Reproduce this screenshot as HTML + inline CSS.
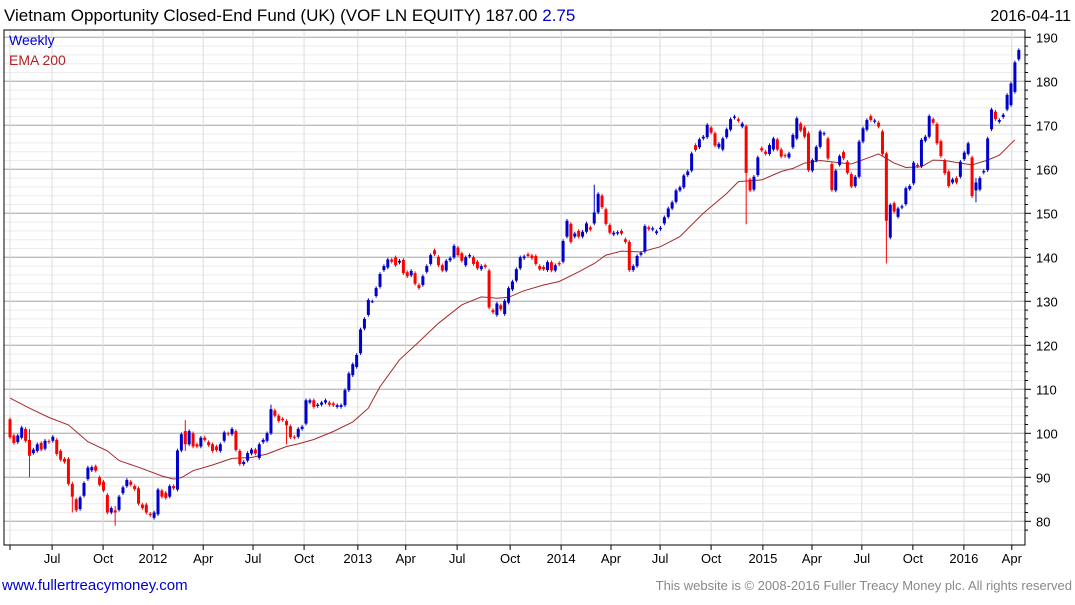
<!DOCTYPE html>
<html><head><meta charset="utf-8">
<style>
body{margin:0;background:#fff;font-family:"Liberation Sans",sans-serif;}
svg text{font-family:"Liberation Sans",sans-serif;}
</style></head>
<body>
<svg id="chart" width="1075" height="600" xmlns="http://www.w3.org/2000/svg">
<rect x="0" y="0" width="1075" height="600" fill="#fff"/>
<text x="4" y="21" font-size="17" fill="#000">Vietnam Opportunity Closed-End Fund (UK) (VOF LN EQUITY) 187.00 <tspan fill="#0000cc">2.75</tspan></text>
<text x="1071" y="21" font-size="16" fill="#000" text-anchor="end">2016-04-11</text>
<g id="grid"></g>
<g id="ema"></g>
<g id="candles"></g>
<rect x="4" y="30" width="1021" height="515" fill="none" stroke="#000" stroke-width="1"/>
<g id="axes"></g>
<text x="9" y="45" font-size="14" fill="#0000cc">Weekly</text>
<text x="9" y="65" font-size="14" fill="#b22222">EMA 200</text>
<text x="2" y="590" font-size="15" fill="#0000cc">www.fullertreacymoney.com</text>
<text x="1072" y="590" font-size="13" fill="#888" text-anchor="end">This website is © 2008-2016 Fuller Treacy Money plc. All rights reserved</text>
</svg>
<script>
const opens=[103.2,99.5,98,99,101,98.5,95.5,96,97.8,96.5,98.2,98.3,98.5,96,94.2,94.2,88.5,85,82.8,85.8,89.6,91.6,92.5,90,89,86,82,82.5,82.6,86.4,88,89,88,87.5,83.8,83.8,81.7,80.8,81.6,87,86.5,85.6,88,87.2,96.1,100.5,97.5,100,97.5,97,99,98,97.5,97,96,98.3,100,99.8,100.5,96,93,93.8,95.4,96.3,94.4,98,98.3,100,105.2,104,103.3,102.8,101.6,99.2,99.2,101,102.2,107,107.5,106.2,106.5,107,107,106.8,106,106,106.4,109.8,113.2,115.1,118.2,123.8,126.9,130,131.2,133.3,137.1,137.7,139.5,140,138.8,139.4,136.6,135.9,136.4,133.7,133.7,136.7,138.5,141.6,140.1,138.2,137,139.3,140,142.2,140.9,138.2,140.2,140,139,137.3,138.2,137,128,126.9,129.1,127.1,129.7,132.7,134.7,137.5,139.8,140.7,140.4,140.3,138,137.8,137.1,138.9,137,138.7,139,144.7,147.6,144.7,146,144.7,145.8,146.8,147.7,150.2,154,150.9,147.3,145.2,145.4,146,144.1,143.5,137.1,138,140.6,141.3,146.8,146.3,145.5,146.4,147.7,149.2,151.1,152.6,155.2,155.9,158.7,159.7,165.5,165,167,167.3,169.5,168.2,165,164.5,167.3,169,171.7,171.4,169.7,169.8,157.7,155.4,158.7,164.8,164,163.5,164.5,166.8,164.5,163.2,162.7,165,167,170.4,169.5,168.2,159.7,162,165.1,168,167,161.2,155.2,161,163.9,161.7,158.9,156.2,158.3,166.3,169,172.1,170.8,170.6,168.6,163.6,144.5,152.3,149.2,151.3,152.1,155.5,156.8,161,160.7,166.5,167.4,171.4,170.3,166.4,162,159.5,157,158,158.3,162.3,163.5,162.7,155.2,155.4,159.3,159.8,169.1,173.1,170.8,171.9,173.6,174.6,177.6,185];
const closes=[99.1,97.8,99.5,101.3,98.3,94.9,96.3,97.5,96.3,98.3,98,99.2,95.3,94,93.5,88.5,85.6,82.5,85.4,88.7,92.2,92.3,91.5,88.3,87,82,83,82,85.6,87.7,89.4,88.3,87.3,84,83,82,81.4,82,87.2,85.6,85.3,88,87.5,96.1,99.8,97.5,100.5,97,97,99,98.5,97.3,96,96.2,97.5,100.2,99.8,101,96.2,93,93.5,95.5,96.3,95.4,97.5,98.5,100,105.5,104,102.8,103,101.8,99.1,99,101,101.5,107.5,107.5,106,106.5,107,107.5,106.5,106.4,106.4,106.4,109.8,113.6,115.7,117.8,123.6,126,130.3,130,133,136.2,138,139.5,139,138.2,139.2,136.4,135.7,136.9,134,133,135.7,138,140.5,140.7,138.2,137,139.2,139.8,142.6,140.5,139.2,140,140.5,138.5,137.5,138,137.8,128.6,127.5,129.5,128.2,130.1,133,134.5,137.3,140,140.2,140.3,139.8,138.5,137.3,137.3,138.9,137,138.2,138.4,143.7,148.3,143.5,145.4,144.7,145.8,147.7,146.3,150.2,154.4,151.4,147.6,145.6,145.6,145.7,145.4,143.5,137.1,138,140.3,141,147.1,146.4,146.6,145.9,146.7,149.1,151.1,152.5,155.2,155.9,158.6,159.5,163.6,164.4,166.8,167.4,170.1,168.3,165.4,165.8,167,169.1,171.4,172,171,170.4,159.2,155.2,158.3,162.7,164.3,163.5,165.5,167,164.5,162.9,163,163.6,167.8,171.6,168.8,167.4,159.8,162.1,165.1,168.6,168.2,162.5,155.3,159.7,163,162.5,159.2,156.1,158.3,166.3,169.3,171.2,171.2,171.1,169.7,163.5,148.3,151.9,150.4,151.1,151.6,155.7,156.2,161.5,160.7,166.7,167.4,172.1,170.6,165.9,163,159.1,156.2,157.7,157,161.7,163.8,165.9,153.9,157,158,159.6,167,173.6,171.4,171.2,172.4,176.9,179.5,184.3,187.1];
const wickIdx=[5,16,27,45,67,71,150,189,225,248];
const wickLow=[90,82,79,96,100,97.5,150,147.5,138.6,152.5];
const wickHigh=[101,89,83.5,103,106.5,103,156.5,159,152.5,158];
const emaIdx=[0,5,10,15,20,25,28,33,39,42,44,47,52,57,62,66,71,74,78,83,88,92,95,100,105,110,116,121,125,128,132,137,141,146,150,153,157,162,167,172,178,184,187,193,198,201,204,208,213,216,220,223,227,230,234,237,240,244,247,251,254,258];
const emaVal=[108,105.7,103.6,101.9,98.1,96,93.8,92.3,90.3,89.6,89.9,91.5,92.8,94.3,94.5,95.3,97,97.6,98.6,100.4,102.6,105.7,110.6,116.7,120.8,125,129.2,131,130.7,130.9,132.4,133.7,134.5,136.7,138.6,140.5,141.4,141.2,142.4,144.7,150,154.5,157.2,157.6,159.5,160.2,161.4,162,161.5,161.2,162.5,163.5,161.4,160.4,160.6,162.1,162,161.4,161,162.1,163.2,166.7];
const yTicks=[80,90,100,110,120,130,140,150,160,170,180,190];
const qTickIdx=[0,10.8,23.9,36.7,49.6,62.4,75.5,89.3,101.6,114.8,128.4,141.5,154.3,166.9,180,193.3,205.9,218.7,231.8,244.9,257.2];
const qTickLabels=["","Jul","Oct","2012","Apr","Jul","Oct","2013","Apr","Jul","Oct","2014","Apr","Jul","Oct","2015","Apr","Jul","Oct","2016","Apr"];

const NS="http://www.w3.org/2000/svg";
const X0=10,STEP=3.895,Y190=37.3,PPU=4.4;
const xs=i=>X0+i*STEP;
const ys=v=>Y190+(190-v)*PPU;
function mk(tag,attrs,parent){const e=document.createElementNS(NS,tag);for(const k in attrs)e.setAttribute(k,attrs[k]);parent.appendChild(e);return e;}
const grid=document.getElementById('grid'),axes=document.getElementById('axes'),cg=document.getElementById('candles'),eg=document.getElementById('ema');
// minor horizontal grid
for(let v=78;v<=192;v+=2){const y=ys(v);if(y<31||y>544)continue;
 const major=v%10===0;
 const l=mk('line',{x1:4,x2:1025,y1:y,y2:y,stroke:major?'#bdbdbd':'#ececec','stroke-width':major?1.3:1},grid);
 
 
 const t=mk('line',{x1:1025,x2:major?1031:1028,y1:y,y2:y,stroke:'#000'},axes);
 
 
}
yTicks.forEach(v=>{const t=mk('text',{x:1036,y:ys(v)+5,'font-size':13,fill:'#000'},axes);t.textContent=v;
 
 });
qTickIdx.forEach((q,k)=>{const x=xs(q);
 const l=mk('line',{x1:x,x2:x,y1:30,y2:545,stroke:'#dcdcdc'},grid);
 
 
 const t=mk('line',{x1:x,x2:x,y1:545,y2:550,stroke:'#000'},axes);
 
 
 if(qTickLabels[k]){const tx=mk('text',{x:x,y:563,'font-size':13,'text-anchor':'middle',fill:'#000'},axes);tx.textContent=qTickLabels[k];
 
 }
});
// EMA
let d='';emaIdx.forEach((q,k)=>{d+=(k?'L':'M')+xs(q).toFixed(1)+','+ys(emaVal[k]).toFixed(1);});
const ep=mk('path',{d:d,fill:'none',stroke:'#a52a2a','stroke-width':1},eg);


// candles
closes.forEach((c,i)=>{const o=opens[i];const up=c>=o;const col=up?'#0000cc':'#ff0000';const x=xs(i);
 let hi=Math.max(o,c)+0.4,lo=Math.min(o,c)-0.4;const w=wickIdx.indexOf(i);if(w>=0){lo=Math.min(lo,wickLow[w]);hi=Math.max(hi,wickHigh[w]);}
 const g=mk('g',{},cg);
 
 
 mk('line',{x1:x,x2:x,y1:ys(hi),y2:ys(lo),stroke:col,'stroke-width':1},g);
 const top=ys(Math.max(o,c)),bot=ys(Math.min(o,c));
 mk('rect',{x:x-1.5,y:top,width:3,height:Math.max(1,bot-top),fill:col},g);
});
</script>
</body></html>
